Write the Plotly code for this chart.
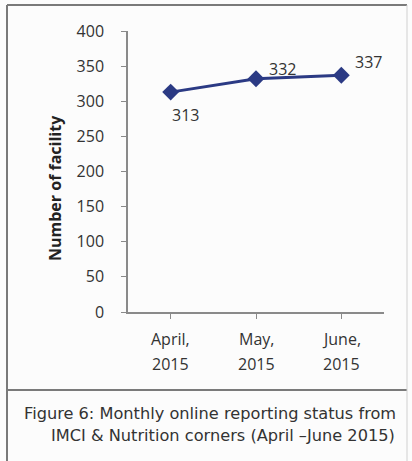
import plotly.graph_objects as go

# Monthly online reporting from IMCI & Nutrition corners
months = ["April,", "May,", "June,"]
years = ["2015", "2015", "2015"]
facilities = [313, 332, 337]
y_ticks = [0, 50, 100, 150, 200, 250, 300, 350, 400]

W, H = 412, 461
L, R, T, B = 128, 28, 31, 149
PW, PH = W - L - R, H - T - B


def px_x(px):
    return (px - L) / PW


def px_y(py):
    return (H - B - py) / PH


line_col = "#2b3a84"
axis_col = "#8a8a8a"
tick_font = dict(family="Open Sans", size=16, color="#333333")

fig = go.Figure()
fig.add_trace(go.Scatter(
    x=list(range(len(months))),
    y=facilities,
    mode="lines+markers",
    line=dict(color=line_col, width=3),
    marker=dict(symbol="diamond", size=13, color=line_col),
    hoverinfo="skip",
    showlegend=False,
))

# value labels beside each point
label_shift = [(15, -23), (26, 10), (27, 13)]
for i, v in enumerate(facilities):
    dx, dy = label_shift[i]
    fig.add_annotation(x=i, y=v, text=str(v), showarrow=False,
                       xshift=dx, yshift=dy, font=tick_font)

# two-line category labels under the x axis
for i, (m, yr) in enumerate(zip(months, years)):
    fig.add_annotation(x=i, y=px_y(339), yref="paper", text=m,
                       showarrow=False, xanchor="center", yanchor="middle",
                       font=tick_font)
    fig.add_annotation(x=i, y=px_y(364), yref="paper", text=yr,
                       showarrow=False, xanchor="center", yanchor="middle",
                       font=tick_font)

# y-axis title
fig.add_annotation(x=px_x(55), y=px_y(188), xref="paper", yref="paper",
                   xanchor="center", yanchor="middle",
                   text="<b>Number of facility</b>", textangle=-90,
                   showarrow=False,
                   font=dict(family="Open Sans", size=16, color="#222222"))

# caption
cap_font = dict(family="DejaVu Sans", size=16.2, color="#333333")
fig.add_annotation(x=px_x(22), y=px_y(413), xref="paper", yref="paper",
                   xanchor="left", yanchor="middle", showarrow=False,
                   text="Figure 6: Monthly online reporting status from",
                   font=cap_font)
fig.add_annotation(x=px_x(49), y=px_y(435), xref="paper", yref="paper",
                   xanchor="left", yanchor="middle", showarrow=False,
                   text="IMCI &amp; Nutrition corners (April \u2013June 2015)",
                   font=cap_font)

# frame around chart and caption
frame = dict(color="#7a7a7a", width=2)
fig.add_shape(type="line", xref="paper", yref="paper",
              x0=px_x(7), x1=px_x(407), y0=px_y(5), y1=px_y(5), line=frame)
fig.add_shape(type="line", xref="paper", yref="paper",
              x0=px_x(7), x1=px_x(7), y0=px_y(5), y1=px_y(461), line=frame)
fig.add_shape(type="line", xref="paper", yref="paper",
              x0=px_x(7), x1=px_x(407), y0=px_y(390), y1=px_y(390), line=frame)
fig.add_shape(type="line", xref="paper", yref="paper",
              x0=px_x(407), x1=px_x(407), y0=px_y(5), y1=px_y(461),
              line=dict(color="#d0d0d0", width=1))

fig.update_xaxes(
    tickmode="array", tickvals=list(range(len(months))),
    range=[-0.5, len(months) - 0.5], tickson="boundaries",
    ticks="outside", ticklen=5, tickcolor=axis_col, showticklabels=False,
    showline=True, linecolor=axis_col, linewidth=1.5,
    showgrid=False, zeroline=False,
)
fig.update_yaxes(
    range=[0, 400], tickmode="array", tickvals=y_ticks,
    ticks="outside", ticklen=5, tickcolor=axis_col,
    showline=True, linecolor=axis_col, linewidth=1.5,
    showgrid=False, zeroline=False, tickfont=tick_font,
    ticklabelstandoff=14,
)
fig.update_layout(
    width=W, height=H,
    margin=dict(l=L, r=R, t=T, b=B),
    paper_bgcolor="#fcfcfc", plot_bgcolor="#fcfcfc",
)

fig.write_html("out.html")
